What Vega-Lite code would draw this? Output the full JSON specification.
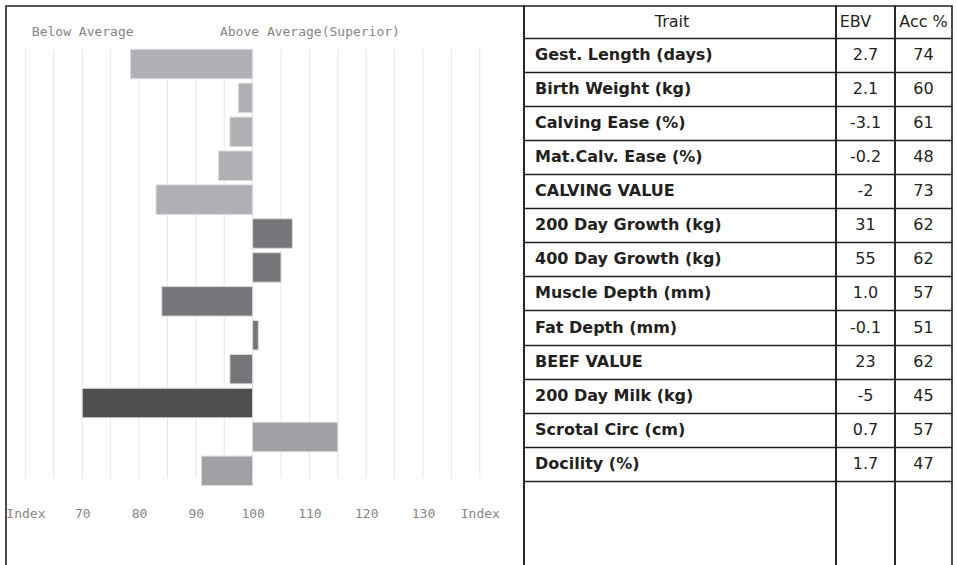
{
  "$schema": "https://vega.github.io/schema/vega-lite/v6.json",
  "padding": {"left": 5, "top": 5, "right": 0, "bottom": 0},
  "background": "white",
  "config": {"view": {"stroke": "#231f20", "strokeWidth": 1.6}, "axis": {"grid": false}},
  "datasets": {
    "rows": [
      {"trait": "Gest. Length (days)", "ebv": "2.7", "acc": "74", "index": 78.5, "category": "calving"},
      {"trait": "Birth Weight (kg)", "ebv": "2.1", "acc": "60", "index": 97.5, "category": "calving"},
      {"trait": "Calving Ease (%)", "ebv": "-3.1", "acc": "61", "index": 96, "category": "calving"},
      {"trait": "Mat.Calv. Ease (%)", "ebv": "-0.2", "acc": "48", "index": 94, "category": "calving"},
      {"trait": "CALVING VALUE", "ebv": "-2", "acc": "73", "index": 83, "category": "calving"},
      {"trait": "200 Day Growth (kg)", "ebv": "31", "acc": "62", "index": 107, "category": "beef"},
      {"trait": "400 Day Growth (kg)", "ebv": "55", "acc": "62", "index": 105, "category": "beef"},
      {"trait": "Muscle Depth (mm)", "ebv": "1.0", "acc": "57", "index": 84, "category": "beef"},
      {"trait": "Fat Depth (mm)", "ebv": "-0.1", "acc": "51", "index": 101, "category": "beef"},
      {"trait": "BEEF VALUE", "ebv": "23", "acc": "62", "index": 96, "category": "beef"},
      {"trait": "200 Day Milk (kg)", "ebv": "-5", "acc": "45", "index": 70, "category": "milk"},
      {"trait": "Scrotal Circ (cm)", "ebv": "0.7", "acc": "57", "index": 115, "category": "other"},
      {"trait": "Docility (%)", "ebv": "1.7", "acc": "47", "index": 91, "category": "other"}
    ],
    "grid": [
      {"v": 60}, {"v": 65}, {"v": 70}, {"v": 75}, {"v": 80}, {"v": 85}, {"v": 90}, {"v": 95}, {"v": 100},
      {"v": 105}, {"v": 110}, {"v": 115}, {"v": 120}, {"v": 125}, {"v": 130}, {"v": 135}, {"v": 140}
    ]
  },
  "spacing": 0,
  "bounds": "flush",
  "resolve": {"scale": {"x": "independent", "y": "independent"}},
  "hconcat": [
    {
      "width": 518,
      "height": 561,
      "resolve": {"axis": {"x": "independent"}},
      "layer": [
        {
          "data": {"name": "grid"},
          "mark": {"type": "rule", "color": "#e6e6e6", "strokeWidth": 1},
          "encoding": {
            "x": {
              "field": "v", "type": "quantitative",
              "scale": {"domain": [56.58, 147.78], "nice": false, "zero": false},
              "axis": {
                "orient": "bottom", "values": [60, 70, 80, 90, 100, 110, 120, 130, 140],
                "labelExpr": "datum.value==60||datum.value==140?'Index':datum.label",
                "offset": -54, "domain": false, "ticks": false, "tickSize": 0, "labelPadding": 0,
                "labelBaseline": "middle", "labelFont": "DejaVu Sans Mono", "labelFontSize": 13,
                "labelColor": "#858585", "title": null, "grid": false, "labelFlush": false, "labelOverlap": false
              }
            },
            "y": {
              "datum": "Gest. Length (days)", "type": "nominal", "bandPosition": 0,
              "scale": {
                "type": "band",
                "domain": ["Gest. Length (days)", "Birth Weight (kg)", "Calving Ease (%)", "Mat.Calv. Ease (%)", "CALVING VALUE", "200 Day Growth (kg)", "400 Day Growth (kg)", "Muscle Depth (mm)", "Fat Depth (mm)", "BEEF VALUE", "200 Day Milk (kg)", "Scrotal Circ (cm)", "Docility (%)", " ", "  "],
                "paddingInner": 0.13, "paddingOuter": 0.839, "align": 0.761
              },
              "axis": null
            },
            "y2": {"datum": "Docility (%)", "bandPosition": 0.75}
          }
        },
        {
          "data": {"name": "rows"},
          "mark": {"type": "bar", "stroke": "#dcdcdc", "strokeWidth": 1},
          "encoding": {
            "x": {
              "field": "index", "type": "quantitative",
              "scale": {"domain": [56.58, 147.78], "nice": false, "zero": false},
              "axis": {
                "orient": "top", "values": [70, 110],
                "labelExpr": "datum.value==70?'Below Average':'Above Average(Superior)'",
                "offset": -25, "domain": false, "ticks": false, "tickSize": 0, "labelPadding": 0,
                "labelBaseline": "middle", "labelFont": "DejaVu Sans Mono", "labelFontSize": 13, "labelLimit": 400,
                "labelColor": "#858585", "title": null, "grid": false, "labelFlush": false, "labelOverlap": false
              }
            },
            "x2": {"datum": 100},
            "y": {
              "field": "trait", "type": "nominal",
              "scale": {
                "type": "band",
                "domain": ["Gest. Length (days)", "Birth Weight (kg)", "Calving Ease (%)", "Mat.Calv. Ease (%)", "CALVING VALUE", "200 Day Growth (kg)", "400 Day Growth (kg)", "Muscle Depth (mm)", "Fat Depth (mm)", "BEEF VALUE", "200 Day Milk (kg)", "Scrotal Circ (cm)", "Docility (%)", " ", "  "],
                "paddingInner": 0.13, "paddingOuter": 0.839, "align": 0.761
              },
              "axis": null
            },
            "color": {
              "field": "category", "type": "nominal",
              "scale": {"domain": ["calving", "beef", "milk", "other"], "range": ["#afb0b3", "#757679", "#4f4f51", "#a0a1a4"]},
              "legend": null
            }
          }
        }
      ]
    },
    {
      "width": 312,
      "height": 561,
      "data": {"name": "rows"},
      "mark": {"type": "text", "align": "left", "baseline": "middle", "dx": 11, "font": "DejaVu Sans", "fontSize": 16, "fontWeight": "bold", "color": "#231f20"},
      "encoding": {
        "x": {
          "datum": "Trait", "type": "nominal", "bandPosition": 0,
          "scale": {"type": "band", "paddingInner": 0, "paddingOuter": 0},
          "axis": {"orient": "top", "offset": -31.7, "domain": false, "ticks": false, "labelPadding": 16, "labelBaseline": "middle", "labelAngle": 0, "labelFont": "DejaVu Sans", "labelFontSize": 16, "labelColor": "#231f20", "title": null, "labelOffset": -8}
        },
        "y": {
          "field": "trait", "type": "nominal",
          "scale": {
            "type": "band",
            "domain": ["Gest. Length (days)", "Birth Weight (kg)", "Calving Ease (%)", "Mat.Calv. Ease (%)", "CALVING VALUE", "200 Day Growth (kg)", "400 Day Growth (kg)", "Muscle Depth (mm)", "Fat Depth (mm)", "BEEF VALUE", "200 Day Milk (kg)", "Scrotal Circ (cm)", "Docility (%)", " ", "  "],
            "paddingInner": 0, "paddingOuter": 0.726, "align": 0.64
          },
          "axis": {"grid": true, "tickBand": "extent", "values": ["Gest. Length (days)", "Birth Weight (kg)", "Calving Ease (%)", "Mat.Calv. Ease (%)", "CALVING VALUE", "200 Day Growth (kg)", "400 Day Growth (kg)", "Muscle Depth (mm)", "Fat Depth (mm)", "BEEF VALUE", "200 Day Milk (kg)", "Scrotal Circ (cm)", "Docility (%)"], "gridColor": "#231f20", "gridWidth": 1.6, "gridOpacity": 1, "labels": false, "ticks": false, "domain": false, "title": null}
        },
        "text": {"field": "trait"}
      }
    },
    {
      "width": 59,
      "height": 561,
      "data": {"name": "rows"},
      "mark": {"type": "text", "align": "center", "baseline": "middle", "font": "DejaVu Sans", "fontSize": 16, "color": "#231f20"},
      "encoding": {
        "x": {
          "datum": "EBV", "type": "nominal",
          "scale": {"type": "band", "paddingInner": 0, "paddingOuter": 0},
          "axis": {"orient": "top", "offset": -31.7, "domain": false, "ticks": false, "labelPadding": 16, "labelBaseline": "middle", "labelAngle": 0, "labelFont": "DejaVu Sans", "labelFontSize": 16, "labelColor": "#231f20", "title": null, "labelOffset": -10}
        },
        "y": {
          "field": "trait", "type": "nominal",
          "scale": {
            "type": "band",
            "domain": ["Gest. Length (days)", "Birth Weight (kg)", "Calving Ease (%)", "Mat.Calv. Ease (%)", "CALVING VALUE", "200 Day Growth (kg)", "400 Day Growth (kg)", "Muscle Depth (mm)", "Fat Depth (mm)", "BEEF VALUE", "200 Day Milk (kg)", "Scrotal Circ (cm)", "Docility (%)", " ", "  "],
            "paddingInner": 0, "paddingOuter": 0.726, "align": 0.64
          },
          "axis": {"grid": true, "tickBand": "extent", "values": ["Gest. Length (days)", "Birth Weight (kg)", "Calving Ease (%)", "Mat.Calv. Ease (%)", "CALVING VALUE", "200 Day Growth (kg)", "400 Day Growth (kg)", "Muscle Depth (mm)", "Fat Depth (mm)", "BEEF VALUE", "200 Day Milk (kg)", "Scrotal Circ (cm)", "Docility (%)"], "gridColor": "#231f20", "gridWidth": 1.6, "gridOpacity": 1, "labels": false, "ticks": false, "domain": false, "title": null}
        },
        "text": {"field": "ebv"}
      }
    },
    {
      "width": 57,
      "height": 561,
      "data": {"name": "rows"},
      "mark": {"type": "text", "align": "center", "baseline": "middle", "font": "DejaVu Sans", "fontSize": 16, "color": "#231f20"},
      "encoding": {
        "x": {
          "datum": "Acc %", "type": "nominal",
          "scale": {"type": "band", "paddingInner": 0, "paddingOuter": 0},
          "axis": {"orient": "top", "offset": -31.7, "domain": false, "ticks": false, "labelPadding": 16, "labelBaseline": "middle", "labelAngle": 0, "labelFont": "DejaVu Sans", "labelFontSize": 16, "labelColor": "#231f20", "title": null}
        },
        "y": {
          "field": "trait", "type": "nominal",
          "scale": {
            "type": "band",
            "domain": ["Gest. Length (days)", "Birth Weight (kg)", "Calving Ease (%)", "Mat.Calv. Ease (%)", "CALVING VALUE", "200 Day Growth (kg)", "400 Day Growth (kg)", "Muscle Depth (mm)", "Fat Depth (mm)", "BEEF VALUE", "200 Day Milk (kg)", "Scrotal Circ (cm)", "Docility (%)", " ", "  "],
            "paddingInner": 0, "paddingOuter": 0.726, "align": 0.64
          },
          "axis": {"grid": true, "tickBand": "extent", "values": ["Gest. Length (days)", "Birth Weight (kg)", "Calving Ease (%)", "Mat.Calv. Ease (%)", "CALVING VALUE", "200 Day Growth (kg)", "400 Day Growth (kg)", "Muscle Depth (mm)", "Fat Depth (mm)", "BEEF VALUE", "200 Day Milk (kg)", "Scrotal Circ (cm)", "Docility (%)"], "gridColor": "#231f20", "gridWidth": 1.6, "gridOpacity": 1, "labels": false, "ticks": false, "domain": false, "title": null}
        },
        "text": {"field": "acc"}
      }
    }
  ]
}
